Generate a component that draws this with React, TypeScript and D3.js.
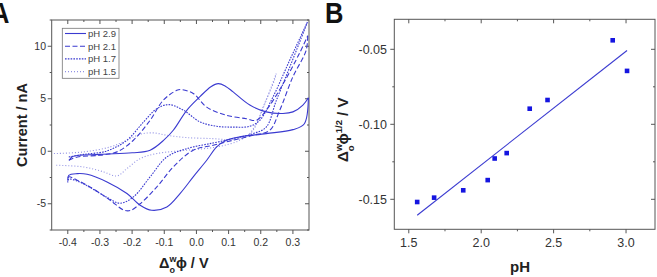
import React from 'react';
import * as d3 from 'd3';

// Panel A: cyclic voltammograms, [potential V, current nA]
const ph29Fwd = [[-0.395, -0.85], [-0.385, -0.5], [-0.3, -0.3], [-0.2, -0.15], [-0.144, 0.1], [-0.1, 1.1], [-0.072, 2.0], [-0.03, 3.9], [0.011, 5.2], [0.045, 6.15], [0.068, 6.44], [0.09, 6.2], [0.114, 5.65], [0.166, 4.4], [0.217, 3.75], [0.269, 3.6], [0.3, 3.75], [0.331, 4.4], [0.348, 5.1]];
const ph29Rev = [[0.348, 5.1], [0.335, 2.6], [0.3, 2.06], [0.217, 1.68], [0.135, 1.37], [0.093, 1.05], [0.063, 0.41], [0.032, -0.86], [-0.01, -2.44], [-0.051, -4.03], [-0.092, -5.3], [-0.139, -5.62], [-0.175, -5.14], [-0.216, -4.03], [-0.278, -2.92], [-0.34, -2.19], [-0.371, -2.13], [-0.397, -2.29], [-0.4, -2.76]];
const ph21Fwd = [[-0.397, -0.86], [-0.37, -0.54], [-0.3, -0.38], [-0.247, -0.06], [-0.196, 1.05], [-0.144, 2.95], [-0.103, 4.86], [-0.061, 5.8], [-0.046, 5.87], [-0.01, 5.5], [0.032, 4.2], [0.093, 3.43], [0.155, 3.1], [0.186, 2.95], [0.217, 3.9], [0.269, 6.4], [0.32, 9.3], [0.346, 11.0]];
const ph21Rev = [[0.346, 11.0], [0.341, 9.6], [0.3, 7.1], [0.259, 3.9], [0.228, 2.0], [0.176, 1.52], [0.114, 1.05], [0.052, 0.57], [-0.01, 0.1], [-0.072, -1.5], [-0.123, -3.4], [-0.175, -5.0], [-0.206, -5.65], [-0.226, -5.6], [-0.268, -4.67], [-0.32, -3.6], [-0.371, -2.76], [-0.397, -2.44], [-0.4, -2.9]];
const ph17Fwd = [[-0.397, -0.54], [-0.35, -0.3], [-0.278, 0.03], [-0.216, 1.05], [-0.164, 2.8], [-0.123, 4.06], [-0.085, 4.44], [-0.04, 3.9], [0.011, 2.8], [0.063, 2.38], [0.114, 2.3], [0.166, 2.38], [0.197, 2.95], [0.238, 5.17], [0.29, 8.67], [0.345, 12.3]];
const ph17Rev = [[0.345, 12.3], [0.335, 11.5], [0.29, 8.0], [0.248, 4.8], [0.217, 2.3], [0.176, 1.68], [0.114, 1.2], [0.052, 0.79], [-0.03, 0.25], [-0.092, -0.54], [-0.144, -2.44], [-0.196, -4.35], [-0.237, -4.95], [-0.278, -4.4], [-0.33, -3.46], [-0.371, -2.83], [-0.397, -2.67], [-0.4, -2.98]];
const ph15Fwd = [[-0.443, -0.22], [-0.35, -0.06], [-0.268, 0.41], [-0.216, 1.05], [-0.175, 1.62], [-0.134, 1.75], [-0.092, 1.52], [-0.03, 1.3], [0.052, 1.2], [0.114, 1.1], [0.155, 1.37], [0.186, 2.63], [0.217, 4.86], [0.248, 7.4]];
const ph15Rev = [[0.248, 7.4], [0.243, 6.8], [0.207, 4.2], [0.176, 2.0], [0.135, 1.05], [0.063, 0.41], [-0.03, 0.1], [-0.123, -0.22], [-0.175, -0.7], [-0.216, -1.65], [-0.247, -2.35], [-0.288, -1.97], [-0.35, -1.5], [-0.438, -1.33]];

const cvLabels = ['pH 2.9', 'pH 2.1', 'pH 1.7', 'pH 1.5'];
const cvDash = ['none', '5,2.5', '1.6,1.2', '1,2'];
const cvOpacity = [1, 1, 1, 0.55];
const cvCurves = [[ph29Fwd, ph29Rev], [ph21Fwd, ph21Rev], [ph17Fwd, ph17Rev], [ph15Fwd, ph15Rev]];

const aXTicks = [-0.4, -0.3, -0.2, -0.1, 0.0, 0.1, 0.2, 0.3];
const aYTicks = [-5, 0, 5, 10];

// Panel B: half-wave potential vs pH
const phValues = [1.558, 1.675, 1.876, 2.045, 2.093, 2.176, 2.335, 2.458, 2.908, 3.007];
const halfWave = [-0.1518, -0.1489, -0.144, -0.1372, -0.1228, -0.1192, -0.0896, -0.0838, -0.044, -0.0644];
const fitSlope = 0.0758;
const fitIntercept = -0.2787;
const bXTicks = [1.5, 2.0, 2.5, 3.0];
const bYTicks = [-0.15, -0.1, -0.05];

const BLUE = '#3a3ad0';
const FONT = 'Liberation Sans, Arial, sans-serif';

function Frame({ x, y, xTicks, yTicks, xMinor, yMinor, xFmt, yFmt, fs, xLabY, yLabX }: any) {
  const [x0, x1] = x.range();
  const [y0, y1] = y.range();
  return (
    <g>
      <rect x={x0} y={y1} width={x1 - x0} height={y0 - y1} fill="none" stroke="#555" strokeWidth={1} />
      {xTicks.map((t: number) => (
        <g key={'x' + t}>
          <line x1={x(t)} x2={x(t)} y1={y0} y2={y0 + 4} stroke="#555" />
          <line x1={x(t)} x2={x(t)} y1={y1} y2={y1 + 4} stroke="#555" />
          <text x={x(t)} y={xLabY} textAnchor="middle" fontSize={fs} fill="#333">{xFmt(t)}</text>
        </g>
      ))}
      {xMinor.map((t: number) => (
        <g key={'xm' + t}>
          <line x1={x(t)} x2={x(t)} y1={y0} y2={y0 + 2} stroke="#555" />
          <line x1={x(t)} x2={x(t)} y1={y1} y2={y1 + 2} stroke="#555" />
        </g>
      ))}
      {yTicks.map((t: number) => (
        <g key={'y' + t}>
          <line x1={x0 - 4} x2={x0} y1={y(t)} y2={y(t)} stroke="#555" />
          <line x1={x1 - 4} x2={x1} y1={y(t)} y2={y(t)} stroke="#555" />
          <text x={yLabX} y={y(t)} dy="0.35em" textAnchor="end" fontSize={fs} fill="#333">{yFmt(t)}</text>
        </g>
      ))}
      {yMinor.map((t: number) => (
        <g key={'ym' + t}>
          <line x1={x0 - 2} x2={x0} y1={y(t)} y2={y(t)} stroke="#555" />
          <line x1={x1 - 2} x2={x1} y1={y(t)} y2={y(t)} stroke="#555" />
        </g>
      ))}
    </g>
  );
}

function PanelA() {
  const x = d3.scaleLinear().domain([-0.45, 0.35]).range([51.7, 309]);
  const y = d3.scaleLinear().domain([-7.5, 12.5]).range([230, 20]);
  const line = d3.line<number[]>().x(d => x(d[0])).y(d => y(d[1])).curve(d3.curveCatmullRom.alpha(0.5));
  const xMinor = aXTicks.map(t => t + 0.05).filter(t => t < 0.35);
  const yMinor = [-7.5, -2.5, 2.5, 7.5, 12.5];
  return (
    <g fontFamily={FONT}>
      <Frame x={x} y={y} xTicks={aXTicks} yTicks={aYTicks} xMinor={xMinor} yMinor={yMinor}
        xFmt={(t: number) => t.toFixed(1)} yFmt={(t: number) => String(t)} fs={10.5} xLabY={246} yLabX={46} />
      {cvCurves.map((c, i) => (
        <g key={i} stroke={BLUE} fill="none" strokeWidth={1.1} strokeDasharray={cvDash[i]} opacity={cvOpacity[i]}>
          <path d={line(c[0]) as string} />
          <path d={line(c[1]) as string} />
        </g>
      ))}
      <rect x={62.3} y={28.3} width={56.7} height={50} fill="white" stroke="#777" strokeWidth={0.8} />
      {cvLabels.map((l, i) => (
        <g key={l}>
          <line x1={65} x2={86} y1={33.5 + i * 12.7} y2={33.5 + i * 12.7} stroke={BLUE} strokeWidth={1.1}
            strokeDasharray={cvDash[i]} opacity={cvOpacity[i]} />
          <text x={88} y={33.5 + i * 12.7} dy="0.35em" fontSize={9.5} fill="#444">{l}</text>
        </g>
      ))}
      <text transform="translate(-9,23) scale(0.85,1)" fontSize={30} fontWeight="bold" fill="#111">A</text>
      <text transform="translate(27,125) rotate(-90)" textAnchor="middle" fontSize={14.5} fontWeight="bold" fill="#222">Current / nA</text>
      <text x={159} y={268} fontSize={14.5} fontWeight="bold" fill="#222">
        Δ<tspan fontSize={9} dy={-6}>w</tspan><tspan fontSize={9} dx={-7} dy={11}>o</tspan><tspan dx={1} dy={-5}>ϕ / V</tspan>
      </text>
    </g>
  );
}

function PanelB() {
  const x = d3.scaleLinear().domain([1.4, 3.2]).range([394.3, 655]);
  const y = d3.scaleLinear().domain([-0.17, -0.03]).range([229.3, 19.3]);
  const xMinor = [1.75, 2.25, 2.75];
  const yMinor = [-0.125, -0.075];
  const fitX = [d3.min(phValues) as number, d3.max(phValues) as number];
  return (
    <g fontFamily={FONT}>
      <Frame x={x} y={y} xTicks={bXTicks} yTicks={bYTicks} xMinor={xMinor} yMinor={yMinor}
        xFmt={(t: number) => t.toFixed(1)} yFmt={(t: number) => t.toFixed(2)} fs={12.5} xLabY={247} yLabX={387} />
      <line x1={x(fitX[0])} x2={x(fitX[1])} y1={y(fitSlope * fitX[0] + fitIntercept)} y2={y(fitSlope * fitX[1] + fitIntercept)}
        stroke={BLUE} strokeWidth={1.1} />
      {phValues.map((p, i) => (
        <rect key={i} x={x(p) - 2.3} y={y(halfWave[i]) - 2.3} width={4.6} height={4.6} fill="#1515e0" />
      ))}
      <text transform="translate(325,23) scale(0.85,1)" fontSize={30} fontWeight="bold" fill="#111">B</text>
      <text x={520} y={272} textAnchor="middle" fontSize={15} fontWeight="bold" fill="#222">pH</text>
      <text transform="translate(348,162) rotate(-90)" fontSize={15} fontWeight="bold" fill="#222">
        Δ<tspan fontSize={9.5} dy={-6}>w</tspan><tspan fontSize={9.5} dx={-7.5} dy={12}>o</tspan><tspan dx={1} dy={-6}>ϕ</tspan><tspan fontSize={9.5} dy={-6}>1/2</tspan><tspan dy={6}> / V</tspan>
      </text>
    </g>
  );
}

export default function App() {
  return (
    <svg width={657} height={277} style={{ position: 'absolute', left: 0, top: 0, background: 'white' }}>
      <PanelA />
      <PanelB />
    </svg>
  );
}
